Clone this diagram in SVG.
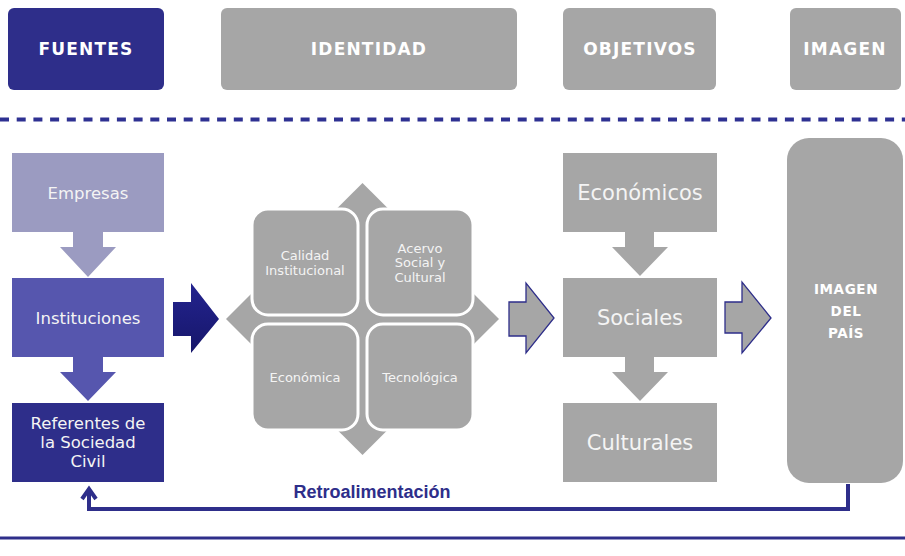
<svg xmlns="http://www.w3.org/2000/svg" width="905" height="556" viewBox="0 0 905 556">
<defs>
<style>
.hdr{font-family:"DejaVu Sans",Verdana,sans-serif;font-weight:bold;font-size:17px;fill:#FFFFFF;text-anchor:middle;letter-spacing:1.2px}
.body{font-family:"DejaVu Sans",Verdana,sans-serif;fill:#F4F4F4;text-anchor:middle}
.gray{fill:#A6A6A6}
.navy{fill:#2E2E8A}
.sq{fill:#A6A6A6;stroke:#FFFFFF;stroke-width:3}
.garrow{fill:#A6A6A6;stroke:#2E2E8A;stroke-width:1.3}
</style>
<linearGradient id="blueGrad" x1="0" y1="0" x2="0" y2="1">
<stop offset="0" stop-color="#24248F"/>
<stop offset="1" stop-color="#16166A"/>
</linearGradient>
</defs>
<rect width="905" height="556" fill="#FFFFFF"/>

<g id="header">
<g id="h-fuentes"><rect x="8" y="8" width="156" height="82" rx="6" class="navy"/><text x="86" y="55" class="hdr">FUENTES</text></g>
<g id="h-identidad"><rect x="221" y="8" width="296" height="82" rx="6" class="gray"/><text x="369" y="55" class="hdr">IDENTIDAD</text></g>
<g id="h-objetivos"><rect x="563" y="8" width="153" height="82" rx="6" class="gray"/><text x="640" y="55" class="hdr">OBJETIVOS</text></g>
<g id="h-imagen"><rect x="790" y="8" width="111" height="82" rx="6" class="gray"/><text x="845" y="55" class="hdr">IMAGEN</text></g>
</g>

<line x1="0" y1="119.5" x2="905" y2="119.5" stroke="#2E3192" stroke-width="4" stroke-dasharray="9 7.7"/>
<line x1="0" y1="538" x2="905" y2="538" stroke="#2E2E8A" stroke-width="3"/>

<g id="connectors">
<polygon points="73,231 103,231 103,247 116,247 88,277 60,247 73,247" fill="#9B9BC1"/>
<polygon points="73,356 103,356 103,372 116,372 88,401 60,372 73,372" fill="#5656AE"/>
<polygon points="173,302 191,302 191,283 219,319 191,353 191,336 173,336" fill="url(#blueGrad)"/>
<polygon points="509,302 526,302 526,283 554,318 526,353 526,336 509,336" class="garrow"/>
<polygon points="625,231 654,231 654,247 668,247 640,276 612,247 625,247" class="gray"/>
<polygon points="625,356 654,356 654,372 668,372 640,401 612,372 625,372" class="gray"/>
<polygon points="725,302 742,302 742,282 771,318 742,353 742,333 725,333" class="garrow"/>
<polyline points="848,484 848,509 89,509 89,490" fill="none" stroke="#2E2E8A" stroke-width="4"/>
<polyline points="82,499 89,489 96,499" fill="none" stroke="#2E2E8A" stroke-width="4" stroke-linejoin="miter"/>
<text x="372" y="498" font-family="'Liberation Sans',Arial,sans-serif" font-weight="bold" font-size="18" fill="#2E2E8A" text-anchor="middle">Retroalimentación</text>
</g>

<g id="empresas"><rect x="12" y="153" width="152" height="79" fill="#9B9BC1"/><text x="88" y="199" class="body" font-size="16.5">Empresas</text></g>
<g id="instituciones"><rect x="12" y="278" width="152" height="79" fill="#5656AE"/><text x="88" y="324" class="body" font-size="16.5">Instituciones</text></g>
<g id="referentes"><rect x="12" y="403" width="152" height="79" class="navy"/>
<text class="body" font-size="16.5"><tspan x="88" y="429">Referentes de</tspan><tspan x="88" y="448">la Sociedad</tspan><tspan x="88" y="467">Civil</tspan></text></g>

<g id="identidad-matrix">
<polygon points="362.5,183 499,319 362.5,455 226,319" class="gray"/>
<g id="calidad"><rect x="252" y="209" width="106" height="106" rx="16" class="sq"/>
<text class="body" font-size="13"><tspan x="305" y="260">Calidad</tspan><tspan x="305" y="275">Institucional</tspan></text></g>
<g id="acervo"><rect x="367" y="209" width="106" height="106" rx="16" class="sq"/>
<text class="body" font-size="13"><tspan x="420" y="253">Acervo</tspan><tspan x="420" y="267">Social y</tspan><tspan x="420" y="282">Cultural</tspan></text></g>
<g id="economica"><rect x="252" y="324" width="106" height="106" rx="16" class="sq"/>
<text x="305" y="382" class="body" font-size="13">Económica</text></g>
<g id="tecnologica"><rect x="367" y="324" width="106" height="106" rx="16" class="sq"/>
<text x="420" y="382" class="body" font-size="13">Tecnológica</text></g>
</g>

<g id="economicos"><rect x="563" y="153" width="154" height="79" class="gray"/><text x="640" y="200" class="body" font-size="21">Económicos</text></g>
<g id="sociales"><rect x="563" y="278" width="154" height="79" class="gray"/><text x="640" y="325" class="body" font-size="21">Sociales</text></g>
<g id="culturales"><rect x="563" y="403" width="154" height="79" class="gray"/><text x="640" y="450" class="body" font-size="21">Culturales</text></g>

<g id="imagen-pais"><rect x="787" y="138" width="116" height="345" rx="22" class="gray"/>
<text font-family="'DejaVu Sans',Verdana,sans-serif" font-weight="bold" font-size="13.5" fill="#FFFFFF" text-anchor="middle" letter-spacing="0.6"><tspan x="846" y="294">IMAGEN</tspan><tspan x="846" y="316">DEL</tspan><tspan x="846" y="338">PAÍS</tspan></text></g>
</svg>
